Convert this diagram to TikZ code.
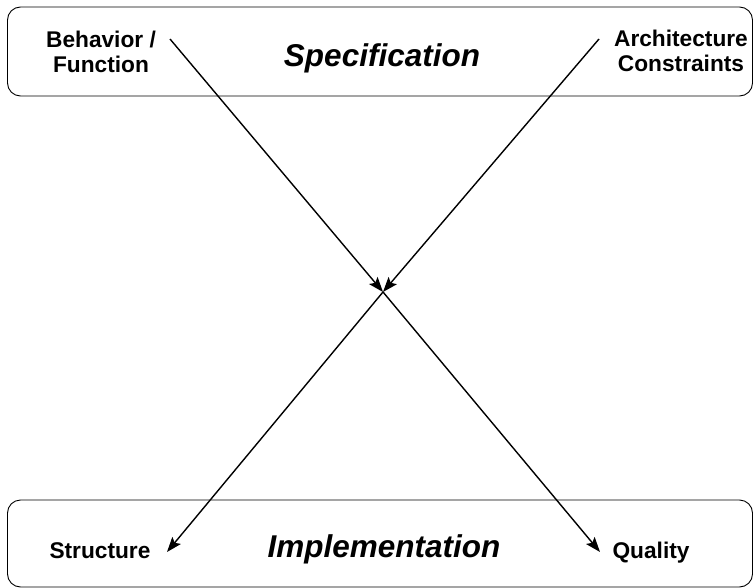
\documentclass[tikz,border=0pt]{standalone}
\usepackage{fontspec}
\setmainfont{Liberation Sans}
\usetikzlibrary{arrows.meta}
\begin{document}
\begin{tikzpicture}[x=1pt,y=-1pt,
  box/.style={draw, line width=0.9pt, rounded corners=13pt},
  lbl/.style={font=\bfseries\fontsize{22.7}{25.5}\selectfont, align=center, inner sep=0pt},
  ttl/.style={font=\bfseries\itshape\fontsize{31.5}{36}\selectfont, inner sep=0pt, anchor=base},
  arr/.style={line width=1.4pt, -{Stealth[length=15pt,width=11pt,inset=3pt]}}]
\useasboundingbox (0,0) rectangle (754,588);
\draw[box] (7.5,7) rectangle (752.5,96);
\draw[box] (7.5,500) rectangle (752.5,587);
\node[ttl] (spec) at (382,67) {Specification};
\node[ttl] (impl) at (384,557) {Implementation};
\node[lbl] (beh) at (101,52) {Behavior /\\Function};
\node[lbl] (arch) at (681,51) {Architecture\\Constraints};
\node[lbl, anchor=base] (struct) at (100,558) {Structure};
\node[lbl, anchor=base] (qual) at (651,558) {Quality};
\coordinate (bstart) at (170,39);
\coordinate (astart) at (599,39);
\coordinate (cross) at (383,292);
\coordinate (send) at (167,552);
\coordinate (qend) at (600,552);
\draw[arr] (bstart) -- (cross);
\draw[arr] (astart) -- (cross);
\draw[arr] (cross) -- (send);
\draw[arr] (cross) -- (qend);
\end{tikzpicture}
\end{document}
